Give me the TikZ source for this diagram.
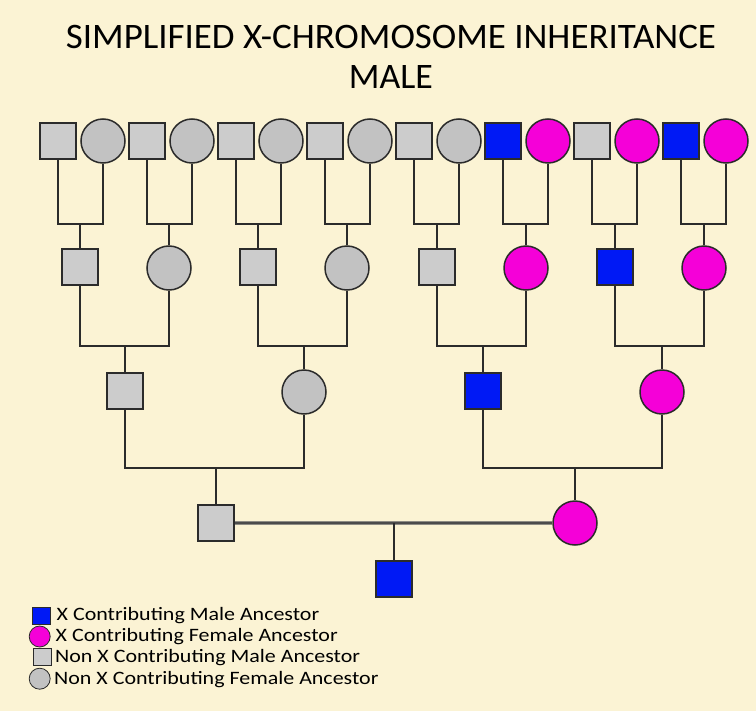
\documentclass[tikz,border=0pt]{standalone}
\usepackage{fontspec}
\setmainfont{Carlito}
\definecolor{bgc}{HTML}{FBF3D4}
\definecolor{xblue}{HTML}{0019F5}
\definecolor{xmag}{HTML}{F500D8}
\definecolor{gsq}{HTML}{CCCCCC}
\definecolor{gci}{HTML}{C2C2C2}
\definecolor{lnc}{HTML}{2B2B2B}
\definecolor{lnshadow}{HTML}{8E8C84}
\newcommand{\lgwide}[1]{\scalebox{1.16}[1]{#1}}
\tikzset{
  msq/.style={rectangle, draw=lnc, line width=1.5bp, minimum size=36bp, inner sep=0pt},
  fci/.style={circle, draw=lnc, line width=1.5bp, minimum size=44bp, inner sep=0pt},
  xm/.style={msq, fill=xblue},
  nm/.style={msq, fill=gsq},
  xf/.style={fci, fill=xmag},
  nf/.style={fci, fill=gci},
  conn/.style={draw=lnc, line width=2bp},
  lgsq/.style={rectangle, draw=lnc, line width=0.8bp, minimum width=18bp, minimum height=17bp, inner sep=0pt},
  lgci/.style={circle, draw=lnc, line width=0.8bp, minimum size=21bp, inner sep=0pt},
  lgtxt/.style={anchor=west, inner sep=0pt, font=\fontsize{19}{22}\selectfont}
}
\begin{document}
\begin{tikzpicture}[x=1bp, y=-1bp]
\useasboundingbox (0,0) rectangle (756,711);
\fill[bgc] (0,0) rectangle (756,711);
% title
\node[align=center, font=\fontsize{36}{40}\selectfont, inner sep=0pt] (title) at (391,56.7) {\scalebox{1.03}[1]{SIMPLIFIED X-CHROMOSOME INHERITANCE}\\MALE};
% row 1
\node[nm] (m1) at (58,141) {};
\node[nf] (f1) at (103,141) {};
\node[nm] (m2) at (147,141) {};
\node[nf] (f2) at (192,141) {};
\node[nm] (m3) at (236,141) {};
\node[nf] (f3) at (281,141) {};
\node[nm] (m4) at (325,141) {};
\node[nf] (f4) at (370,141) {};
\node[nm] (m5) at (414,141) {};
\node[nf] (f5) at (459,141) {};
\node[xm] (m6) at (503,141) {};
\node[xf] (f6) at (548,141) {};
\node[nm] (m7) at (592,141) {};
\node[xf] (f7) at (637,141) {};
\node[xm] (m8) at (681,141) {};
\node[xf] (f8) at (726,141) {};
% row 2
\node[nm] (a1) at (80,267) {};
\node[nf] (a2) at (169,268) {};
\node[nm] (a3) at (258,267) {};
\node[nf] (a4) at (347,268) {};
\node[nm] (a5) at (437,267) {};
\node[xf] (a6) at (526,268) {};
\node[xm] (a7) at (615,267) {};
\node[xf] (a8) at (704,268) {};
% row 3
\node[nm] (b1) at (125,391) {};
\node[nf] (b2) at (304,392) {};
\node[xm] (b3) at (483,391) {};
\node[xf] (b4) at (662,392) {};
% row 4
\node[nm] (gf) at (216,523) {};
\node[xf] (gm) at (575,523) {};
% proband
\node[xm] (p) at (394,579) {};
% junctions
\coordinate (j1) at (80,224);
\coordinate (j2) at (169,224);
\coordinate (j3) at (258,224);
\coordinate (j4) at (347,224);
\coordinate (j5) at (437,224);
\coordinate (j6) at (526,224);
\coordinate (j7) at (615,224);
\coordinate (j8) at (704,224);
\coordinate (k1) at (125,346);
\coordinate (k2) at (304,346);
\coordinate (k3) at (483,346);
\coordinate (k4) at (662,346);
\coordinate (l1) at (216,468);
\coordinate (l2) at (575,468);
\coordinate (mid) at (394,523);
% connectors row 1 -> row 2
\draw[conn] (m1.south) |- (j1) -| (f1.south);
\draw[conn] (m2.south) |- (j2) -| (f2.south);
\draw[conn] (m3.south) |- (j3) -| (f3.south);
\draw[conn] (m4.south) |- (j4) -| (f4.south);
\draw[conn] (m5.south) |- (j5) -| (f5.south);
\draw[conn] (m6.south) |- (j6) -| (f6.south);
\draw[conn] (m7.south) |- (j7) -| (f7.south);
\draw[conn] (m8.south) |- (j8) -| (f8.south);
\draw[conn] (j1) -- (a1.north);
\draw[conn] (j2) -- (a2.north);
\draw[conn] (j3) -- (a3.north);
\draw[conn] (j4) -- (a4.north);
\draw[conn] (j5) -- (a5.north);
\draw[conn] (j6) -- (a6.north);
\draw[conn] (j7) -- (a7.north);
\draw[conn] (j8) -- (a8.north);
% row 2 -> row 3
\draw[conn] (a1.south) |- (k1) -| (a2.south);
\draw[conn] (a3.south) |- (k2) -| (a4.south);
\draw[conn] (a5.south) |- (k3) -| (a6.south);
\draw[conn] (a7.south) |- (k4) -| (a8.south);
\draw[conn] (k1) -- (b1.north);
\draw[conn] (k2) -- (b2.north);
\draw[conn] (k3) -- (b3.north);
\draw[conn] (k4) -- (b4.north);
% row 3 -> row 4
\draw[conn] (b1.south) |- (l1) -| (b2.south);
\draw[conn] (b3.south) |- (l2) -| (b4.south);
\draw[conn] (l1) -- (gf.north);
\draw[conn] (l2) -- (gm.north);
% parents -> proband
\draw[draw=lnshadow, line width=4bp] (gf.east) -- (mid) -- (gm.west);
\draw[draw=lnc!85, line width=1.6bp] (gf.east) -- (mid) -- (gm.west);
\draw[conn] (mid) -- (p.north);
% legend
\node[lgsq, fill=xblue] (lg1) at (41.5,616) {};
\node[lgci, fill=xmag] (lg2) at (39.7,636.5) {};
\node[lgsq, fill=gsq] (lg3) at (42,657) {};
\node[lgci, fill=gci] (lg4) at (39.7,678.7) {};
\node[lgtxt] (lt1) at (56.5,616) {\lgwide{X Contributing Male Ancestor}};
\node[lgtxt] (lt2) at (55.5,637) {\lgwide{X Contributing Female Ancestor}};
\node[lgtxt] (lt3) at (55,658) {\lgwide{Non X Contributing Male Ancestor}};
\node[lgtxt] (lt4) at (54,679.5) {\lgwide{Non X Contributing Female Ancestor}};
\end{tikzpicture}
\end{document}
